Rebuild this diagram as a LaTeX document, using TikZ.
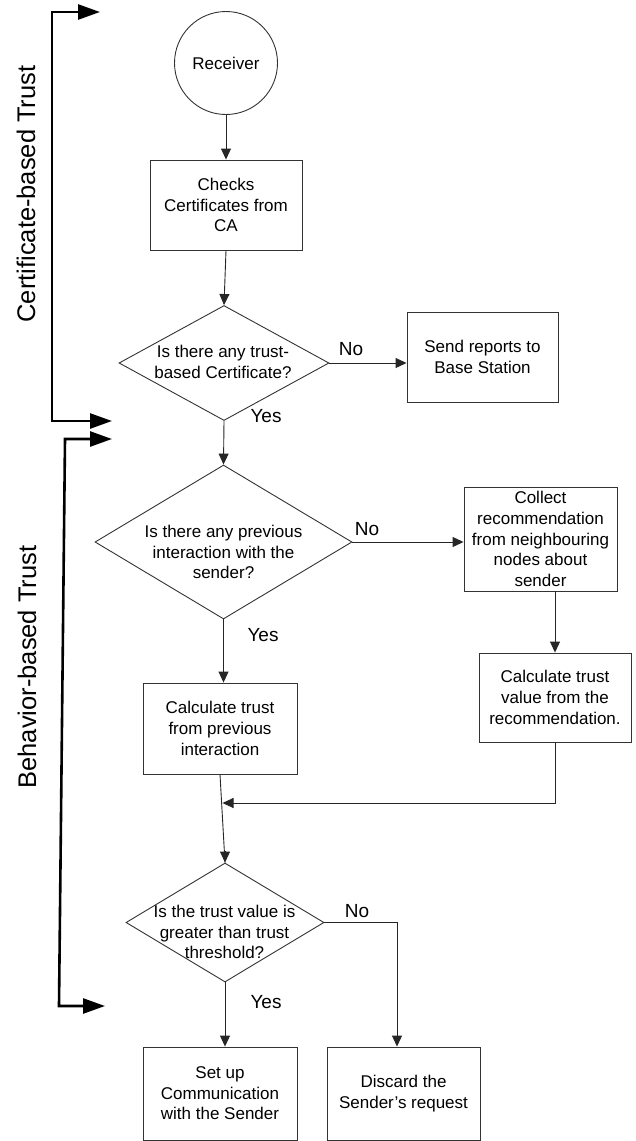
\documentclass[tikz,border=0pt]{standalone}
\usepackage{fontspec}
\setmainfont{Liberation Sans}
\usetikzlibrary{arrows.meta,shapes.geometric,calc}
\begin{document}
\begin{tikzpicture}[x=1pt,y=-1pt,
  txt/.style={font=\fontsize{17}{20.6}\selectfont, align=center, inner sep=0},
  box/.style={draw=black!80, line width=0.9pt, rectangle, inner sep=0, align=center, font=\fontsize{17}{20.6}\selectfont},
  dia/.style={draw=black!80, line width=0.9pt, diamond, inner sep=0},
  lab/.style={font=\fontsize{19}{22}\selectfont, inner sep=0},
  side/.style={font=\fontsize{25.5}{30}\selectfont, rotate=90, inner sep=0},
  arr/.style={draw=black!85, line width=0.9pt, -{Triangle[length=11pt,width=10pt]}},
  brk/.style={line width=2.6pt, {Triangle[length=22pt,width=15pt]}-{Triangle[length=22pt,width=15pt]}}
]
\useasboundingbox (0,0) rectangle (636,1141);

% nodes
\node[draw=black!80, line width=0.9pt, circle, minimum size=103, inner sep=0, font=\fontsize{17}{20.6}\selectfont] (recv) at (226,63) {Receiver};
\node[box, minimum width=152, minimum height=90] (chk) at (226,205) {Checks\\Certificates from\\CA};
\node[dia, minimum width=210, minimum height=115] (d1) at (224,363) {};
\node[txt] (d1t) at (223,362) {Is there any trust-\\based Certificate?};
\node[box, minimum width=151, minimum height=90] (send) at (482.5,357) {Send reports to\\Base Station};
\node[dia, minimum width=257, minimum height=154] (d2) at (223.5,542) {};
\node[txt] (d2t) at (223.5,552) {Is there any previous\\interaction with the\\sender?};
\node[box, minimum width=153, minimum height=104] (coll) at (540.5,539) {Collect\\recommendation\\from neighbouring\\nodes about\\sender};
\node[box, minimum width=152, minimum height=89] (calcr) at (555,697.5) {Calculate trust\\value from the\\recommendation.};
\node[box, minimum width=154, minimum height=91] (calcl) at (220,728.5) {Calculate trust\\from previous\\interaction};
\node[dia, minimum width=198, minimum height=119] (d3) at (225,922.5) {};
\node[txt] (d3t) at (224.5,932) {Is the trust value is\\greater than trust\\threshold?};
\node[box, minimum width=154, minimum height=93] (setup) at (220,1093.5) {Set up\\Communication\\with the Sender};
\node[box, minimum width=153, minimum height=93] (disc) at (403.5,1093.5) {Discard the\\Sender’s request};

% labels
\node[lab] (no1) at (351,349) {No};
\node[lab] (yes1) at (266,416) {Yes};
\node[lab] (no2) at (367,529) {No};
\node[lab] (yes2) at (263,635) {Yes};
\node[lab] (no3) at (357,911) {No};
\node[lab] (yes3) at (266,1002) {Yes};
\node[side] (cbt) at (26,194) {Certificate-based Trust};
\node[side] (bbt) at (27,667) {Behavior-based Trust};

% connectors
\draw[arr] (recv) -- (chk);
\draw[arr] (chk.south) -- (d1.north);
\draw[arr] (d1.east) -- (send.west |- d1.east);
\draw[arr] (d1.south) -- (d2.north);
\draw[arr] (d2.east) -- (coll.west |- d2.east);
\draw[arr] (d2.south) -- (d2.south |- calcl.north);
\draw[arr] (calcr.north |- coll.south) -- (calcr.north);
\draw[draw=black!85, line width=0.9pt] (calcl.south) -- (d3.north);
\draw[arr] (d3.north) ++(0,-12) -- (d3.north);
\coordinate (jn) at (222.5,803);
\draw[arr] (calcr.south) |- (jn);
\draw[arr] (d3.south) -- (d3.south |- setup.north);
\draw[arr] (d3.east) -| ([xshift=-6.5pt]disc.north);

% brackets
\coordinate (c1) at (112,421);
\coordinate (c2) at (52,421);
\coordinate (c3) at (52,12);
\coordinate (c4) at (100,12);
\draw[brk] (c1) -- (c2) -- (c3) -- (c4);
\coordinate (b1) at (112,439);
\coordinate (b2) at (65,439);
\coordinate (b3) at (59,1006);
\coordinate (b4) at (105,1006);
\draw[brk] (b1) -- (b2) -- (b3) -- (b4);
\end{tikzpicture}
\end{document}
